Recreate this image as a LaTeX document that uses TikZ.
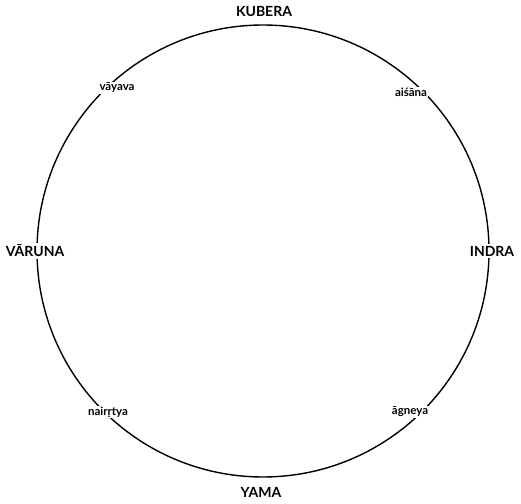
\documentclass[tikz,border=0pt]{standalone}
\usepackage{fontspec}
\setmainfont{Lato}
\begin{document}
\begin{tikzpicture}[x=1pt,y=1pt,
  biglabel/.style={font=\fontsize{14}{14}\selectfont\bfseries, fill=white, inner sep=1.5pt},
  smalllabel/.style={font=\fontsize{11.5}{12}\selectfont\bfseries, fill=white, inner sep=1pt}]
\useasboundingbox (0,0) rectangle (521,503);
\draw[line width=1.4pt] (263,252) circle (226);
\node[biglabel] (kubera) at (264,491) {KUBERA};
\node[biglabel] (yama) at (261,11) {YAMA};
\node[biglabel] (varuna) at (35,252) {VĀRUNA};
\node[biglabel] (indra) at (492,252) {INDRA};
\node[smalllabel] (vayava) at (117,415) {vāyava};
\node[smalllabel] (aisana) at (411,411) {aiśāna};
\node[smalllabel] (nairrtya) at (108,91) {nairṛtya};
\node[smalllabel] (agneya) at (410,91) {āgneya};
\end{tikzpicture}
\end{document}
